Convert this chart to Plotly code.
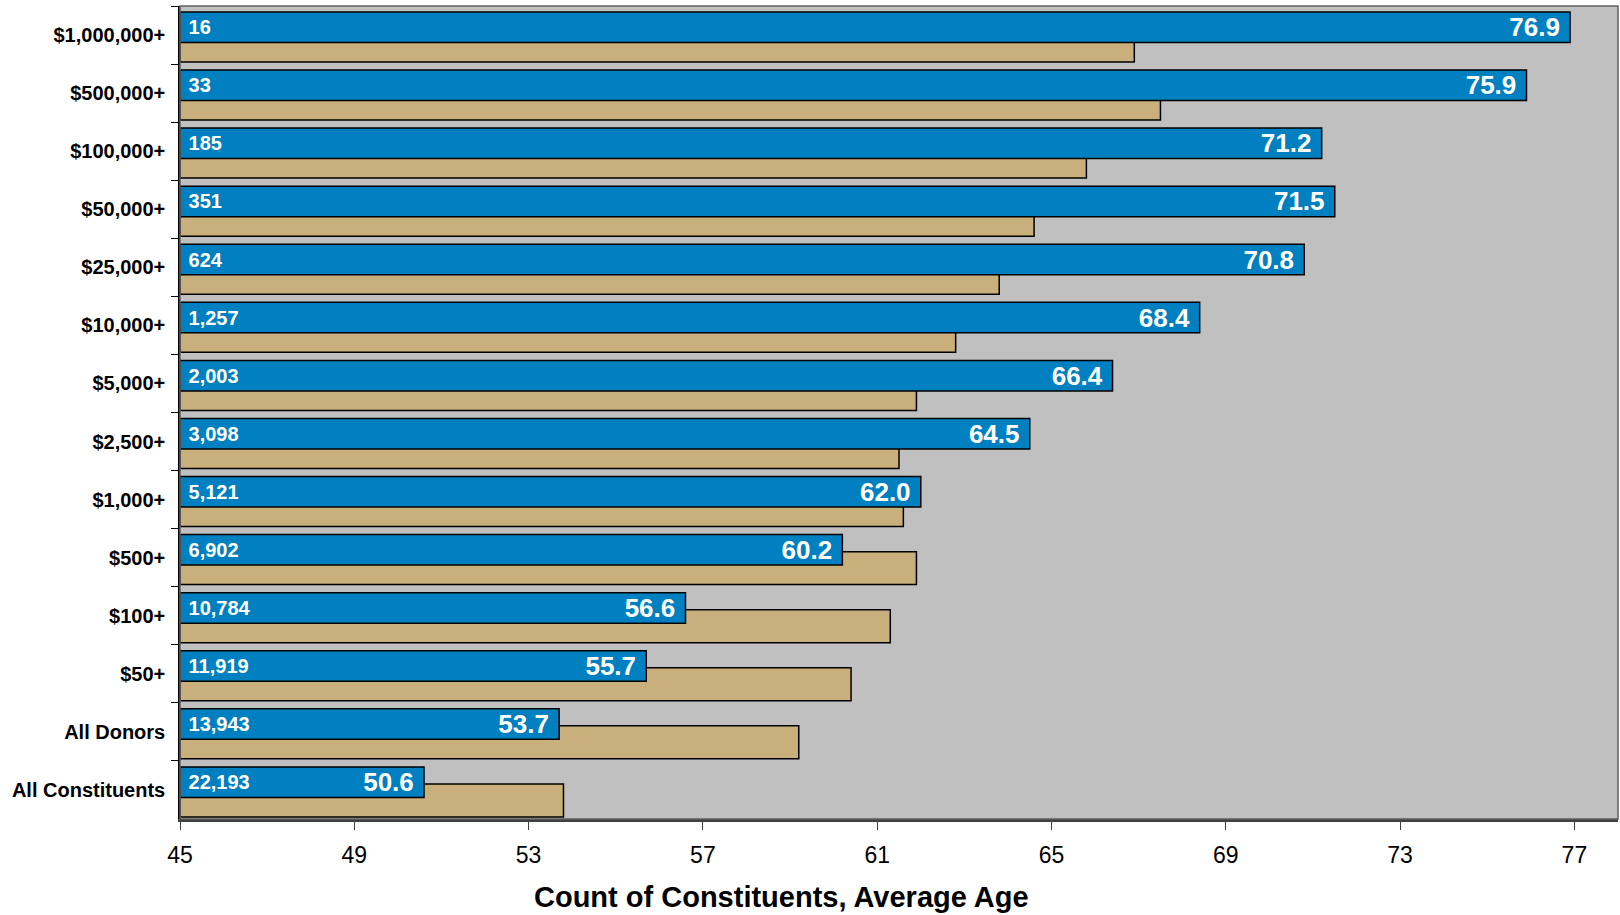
import plotly.graph_objects as go

# Giving levels, top to bottom
categories = [
    "$1,000,000+", "$500,000+", "$100,000+", "$50,000+", "$25,000+",
    "$10,000+", "$5,000+", "$2,500+", "$1,000+", "$500+", "$100+", "$50+",
    "All Donors", "All Constituents",
]
constituent_counts = [16, 33, 185, 351, 624, 1257, 2003, 3098, 5121, 6902,
                      10784, 11919, 13943, 22193]
average_age = [76.9, 75.9, 71.2, 71.5, 70.8, 68.4, 66.4, 64.5, 62.0, 60.2,
               56.6, 55.7, 53.7, 50.6]
comparison_age = [66.9, 67.5, 65.8, 64.6, 63.8, 62.8, 61.9, 61.5, 61.6, 61.9,
                  61.3, 60.4, 59.2, 53.8]
x_ticks = [45, 49, 53, 57, 61, 65, 69, 73, 77]

AXIS_MIN = 45
BLUE = "#0080C0"
TAN = "#C9AF7B"
FONT = "Arial"
NBSP = "\u00a0"  # keeps a little breathing room between label and bar edge

fig = go.Figure()

# Tan series, sitting in the lower part of each band (drawn first, behind)
fig.add_trace(go.Bar(
    y=categories,
    x=[v - AXIS_MIN for v in comparison_age],
    base=AXIS_MIN,
    orientation="h",
    offset=-0.104, width=0.568,
    marker=dict(color=TAN, line=dict(color="black", width=1.5)),
    hoverinfo="skip",
))

# Blue series: average age, labelled at the bar end
fig.add_trace(go.Bar(
    y=categories,
    x=[v - AXIS_MIN for v in average_age],
    base=AXIS_MIN,
    orientation="h",
    offset=-0.397, width=0.525,
    marker=dict(color=BLUE, line=dict(color="black", width=1.5)),
    text=[f"{v:.1f}{NBSP}" for v in average_age],
    textposition="inside", insidetextanchor="end", textangle=0,
    constraintext="none",
    textfont=dict(family=FONT, size=26, color="white", weight="bold"),
    hoverinfo="skip",
))

# Constituent counts, written at the start of the blue bars
fig.add_trace(go.Bar(
    y=categories,
    x=[v - AXIS_MIN for v in average_age],
    base=AXIS_MIN,
    orientation="h",
    offset=-0.397, width=0.525,
    marker=dict(color="rgba(0,0,0,0)", line=dict(width=0)),
    text=[f"{NBSP}{c:,}" for c in constituent_counts],
    textposition="inside", insidetextanchor="start", textangle=0,
    constraintext="none",
    textfont=dict(family=FONT, size=20, color="white", weight="bold"),
    hoverinfo="skip",
))

fig.update_layout(
    width=1620, height=915,
    margin=dict(l=180, r=2, t=6, b=96),
    plot_bgcolor="#C0C0C0", paper_bgcolor="white",
    barmode="overlay", showlegend=False,
    xaxis=dict(
        range=[45, 78], tickvals=x_ticks, showgrid=False, zeroline=False,
        ticks="outside", ticklen=8, tickcolor="#404040", tickwidth=1,
        showline=True, linecolor="#404040", linewidth=2.5,
        ticklabelstandoff=6,
        tickfont=dict(family=FONT, size=23, color="black"),
    ),
    yaxis=dict(
        type="category", categoryorder="array", categoryarray=categories,
        autorange="reversed", tickson="boundaries",
        ticks="outside", ticklen=7, tickcolor="black", tickwidth=1,
        showline=True, linecolor="black", linewidth=1.5, showgrid=False,
        ticklabelstandoff=9,
        tickfont=dict(family=FONT, size=20, color="black", weight="bold"),
    ),
    shapes=[dict(
        type="rect", xref="paper", yref="paper", x0=0, x1=1, y0=0, y1=1,
        line=dict(color="#606060", width=1.5), layer="above",
    )],
    annotations=[dict(
        text="Count of Constituents, Average Age",
        xref="paper", yref="paper", x=0.4186, y=-0.096,
        xanchor="center", yanchor="middle", showarrow=False,
        font=dict(family=FONT, size=29, color="black", weight="bold"),
    )],
)

fig.write_html("out.html")
